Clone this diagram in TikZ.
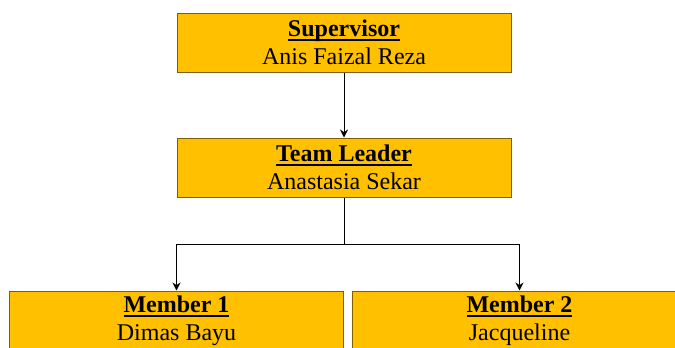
\documentclass[tikz,border=0pt]{standalone}
\usepackage{fontspec}
\setmainfont{Liberation Serif}
\usetikzlibrary{arrows.meta}

\definecolor{boxfill}{HTML}{FFC000}
\definecolor{boxline}{HTML}{7F6000}

\newcommand{\roletitle}[1]{\setbox0\hbox{\bfseries #1}\leavevmode\rlap{\rule[-3.2pt]{\wd0}{1.5pt}}\box0}

\begin{document}
\begin{tikzpicture}[x=0.75pt,y=-0.75pt,
    role/.style={draw=boxline,fill=boxfill,line width=0.75pt,minimum width=250.5pt,minimum height=44.25pt,
      inner sep=0pt,align=center,font=\fontsize{18}{21}\selectfont},
    link/.style={line width=0.75pt,-{Stealth[length=6pt,width=6pt]}},
    >=Stealth]

  \useasboundingbox (0,0) rectangle (675,347);

  % --- top two levels ---
  \node[role] (sup) at (344,42.5) {\roletitle{Supervisor}\\Anis Faizal Reza};
  \node[role] (lead) at (344,167.5) {\roletitle{Team Leader}\\Anastasia Sekar};

  % --- members ---
  \node[role] (m1) at (176.5,320.5) {\roletitle{Member 1}\\Dimas Bayu};
  \node[role] (m2) at (519.5,320.5) {\roletitle{Member 2}\\Jacqueline};

  \coordinate (split) at (344,244);

  \draw[link] (sup) -- (lead);
  \draw[line width=0.75pt] (lead) -- (split);
  \draw[link] (split) -| (m1);
  \draw[link] (split) -| (m2);

\end{tikzpicture}
\end{document}
